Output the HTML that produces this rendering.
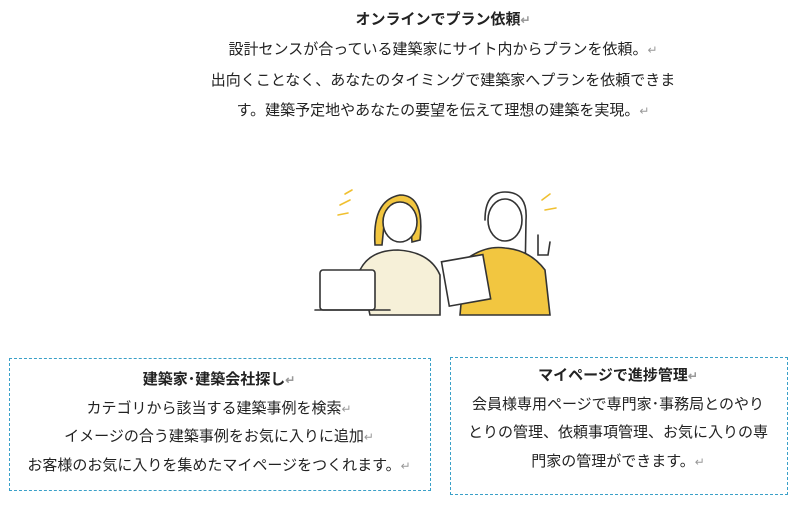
<!DOCTYPE html>
<html><head><meta charset="utf-8"><style>
body{margin:0;width:797px;height:507px;background:#fff;position:relative;font-family:"Liberation Sans","Noto Sans CJK JP",sans-serif;color:#222;overflow:hidden}
.t{position:absolute;left:0;width:100%;text-align:center;font-size:15px;white-space:nowrap;line-height:20px}
.b{font-weight:bold}
.r{color:#999;font-size:12px}
.box{position:absolute;border:1px dashed #3aa0c8}
</style></head><body>
<div class="t b" style="left:443px;width:0;top:10px"><span style="position:absolute;transform:translateX(-50%)">オンラインでプラン依頼<span class="r">↵</span></span></div>
<div class="t" style="left:443px;width:0;top:40px"><span style="position:absolute;transform:translateX(-50%)">設計センスが合っている建築家にサイト内からプランを依頼。<span class="r">↵</span></span></div>
<div class="t" style="left:443px;width:0;top:71px"><span style="position:absolute;transform:translateX(-50%)">出向くことなく、あなたのタイミングで建築家へプランを依頼できま</span></div>
<div class="t" style="left:443px;width:0;top:101px"><span style="position:absolute;transform:translateX(-50%)">す。建築予定地やあなたの要望を伝えて理想の建築を実現。<span class="r">↵</span></span></div>

<svg style="position:absolute;left:300px;top:180px" width="270" height="150" viewBox="0 0 270 150" fill="none" stroke="#333" stroke-width="1.6" stroke-linecap="round">
<path d="M40 25 L50 20 M45 14 L52 10 M38 35 L48 33" stroke="#f0c030"/>
<path d="M242 20 L250 14 M245 30 L256 28" stroke="#f0c030"/>
<path d="M75 65 Q72 20 100 15 Q125 15 120 60 L112 62 L110 35 L85 35 L82 65 Z" fill="#f2c640"/>
<ellipse cx="100" cy="42" rx="17" ry="20" fill="#fff"/>
<path d="M60 90 Q70 70 98 70 Q130 72 140 95 L140 135 L70 135 Z" fill="#f6f0d8"/>
<rect x="20" y="90" width="55" height="40" rx="3" fill="#fff"/>
<path d="M15 130 L90 130" />
<ellipse cx="205" cy="40" rx="17" ry="21" fill="#fff"/>
<path d="M185 40 Q185 12 205 12 Q228 12 226 40 L225 100" />
<path d="M165 80 Q185 65 205 68 Q230 70 245 90 L250 135 L160 135 Z" fill="#f2c640"/>
<rect x="145" y="78" width="42" height="45" fill="#fff" transform="rotate(-10 165 100)"/>
<path d="M238 55 L238 75 L248 75 L250 62" fill="#fff"/>
</svg>

<div class="box" style="left:9px;top:358px;width:420px;height:131px"></div>
<div class="t b" style="left:219px;width:0;top:370px"><span style="position:absolute;transform:translateX(-50%)">建築家･建築会社探し<span class="r">↵</span></span></div>
<div class="t" style="left:219px;width:0;top:399px"><span style="position:absolute;transform:translateX(-50%)">カテゴリから該当する建築事例を検索<span class="r">↵</span></span></div>
<div class="t" style="left:219px;width:0;top:427px"><span style="position:absolute;transform:translateX(-50%)">イメージの合う建築事例をお気に入りに追加<span class="r">↵</span></span></div>
<div class="t" style="left:219px;width:0;top:456px"><span style="position:absolute;transform:translateX(-50%)">お客様のお気に入りを集めたマイページをつくれます。<span class="r">↵</span></span></div>

<div class="box" style="left:450px;top:357px;width:336px;height:136px"></div>
<div class="t b" style="left:618px;width:0;top:366px"><span style="position:absolute;transform:translateX(-50%)">マイページで進捗管理<span class="r">↵</span></span></div>
<div class="t" style="left:618px;width:0;top:395px"><span style="position:absolute;transform:translateX(-50%)">会員様専用ページで専門家･事務局とのやり</span></div>
<div class="t" style="left:618px;width:0;top:423px"><span style="position:absolute;transform:translateX(-50%)">とりの管理、依頼事項管理、お気に入りの専</span></div>
<div class="t" style="left:618px;width:0;top:452px"><span style="position:absolute;transform:translateX(-50%)">門家の管理ができます。<span class="r">↵</span></span></div>
</body></html>
